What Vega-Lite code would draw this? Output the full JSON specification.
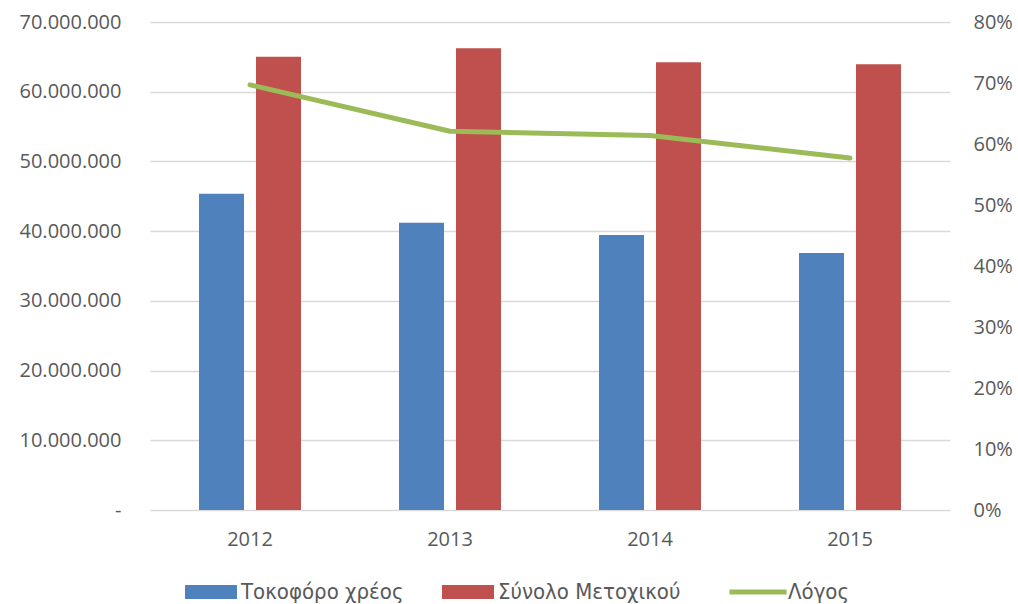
{
  "$schema": "https://vega.github.io/schema/vega-lite/v6.json",
  "width": 800,
  "height": 488,
  "autosize": {"type": "none"},
  "padding": {"left": 150, "top": 22, "right": 68, "bottom": 94},
  "background": "#ffffff",
  "config": {
    "locale": {"number": {"decimal": ",", "thousands": ".", "grouping": [3], "currency": ["", " €"]}},
    "view": {"stroke": null},
    "axis": {"labelFont": "Open Sans", "labelFontSize": 20, "labelColor": "#595959", "domain": false, "ticks": false, "title": null}
  },
  "datasets": {
    "bars": [
      {"year": "2012", "series": "Τοκοφόρο χρέος", "value": 45370000},
      {"year": "2012", "series": "Σύνολο Μετοχικού", "value": 65020000},
      {"year": "2013", "series": "Τοκοφόρο χρέος", "value": 41210000},
      {"year": "2013", "series": "Σύνολο Μετοχικού", "value": 66220000},
      {"year": "2014", "series": "Τοκοφόρο χρέος", "value": 39450000},
      {"year": "2014", "series": "Σύνολο Μετοχικού", "value": 64220000},
      {"year": "2015", "series": "Τοκοφόρο χρέος", "value": 36870000},
      {"year": "2015", "series": "Σύνολο Μετοχικού", "value": 63930000}
    ],
    "ratio": [
      {"year": "2012", "series": "Λόγος", "ratio": 0.697},
      {"year": "2013", "series": "Λόγος", "ratio": 0.621},
      {"year": "2014", "series": "Λόγος", "ratio": 0.614},
      {"year": "2015", "series": "Λόγος", "ratio": 0.577}
    ]
  },
  "encoding": {
    "x": {
      "field": "year", "type": "nominal",
      "scale": {"paddingInner": 0.49, "paddingOuter": 0.245},
      "axis": {"labelAngle": 0, "labelPadding": 19, "grid": false}
    }
  },
  "layer": [
    {
      "data": {"name": "bars"},
      "mark": {"type": "bar"},
      "encoding": {
        "xOffset": {"field": "series", "type": "nominal", "sort": ["Τοκοφόρο χρέος", "Σύνολο Μετοχικού"], "scale": {"paddingInner": 0.21, "paddingOuter": 0}},
        "y": {
          "field": "value", "type": "quantitative",
          "scale": {"domain": [0, 70000000], "nice": false},
          "axis": {
            "orient": "left",
            "values": [0, 10000000, 20000000, 30000000, 40000000, 50000000, 60000000, 70000000],
            "labelExpr": "datum.value === 0 ? '-' : format(datum.value, ',.0f')",
            "labelPadding": 29,
            "grid": true, "gridColor": "#d9d9d9", "gridWidth": 1.5
          }
        },
        "color": {
          "field": "series", "type": "nominal",
          "scale": {"domain": ["Τοκοφόρο χρέος", "Σύνολο Μετοχικού", "Λόγος"], "range": ["#4F81BD", "#C0504D", "#9BBB59"]},
          "legend": {
            "orient": "none", "legendX": 35, "legendY": 559, "direction": "horizontal", "title": null,
            "padding": 0,
            "symbolSize": 10816, "symbolType": "M-0.5,-0.135H0.5V0.135H-0.5Z",
            "columnPadding": 38, "labelOffset": 3,
            "labelFont": "DejaVu Sans Condensed, Open Sans", "labelFontSize": 22, "labelColor": "#595959", "labelLimit": 400,
            "encode": {
              "symbols": {"update": {
                "x": {"value": 26},
                "shape": {"signal": "datum.value === 'Λόγος' ? 'M-0.55,0H0.55' : 'M-0.5,-0.135H0.5V0.135H-0.5Z'"},
                "fill": {"signal": "datum.value === 'Τοκοφόρο χρέος' ? '#4F81BD' : datum.value === 'Σύνολο Μετοχικού' ? '#C0504D' : 'transparent'"},
                "stroke": {"signal": "datum.value === 'Λόγος' ? '#9BBB59' : 'transparent'"},
                "strokeWidth": {"signal": "datum.value === 'Λόγος' ? 5 : 0"},
                "opacity": {"value": 1}
              }},
              "labels": {"update": {"x": {"value": 56}}}
            }
          }
        }
      }
    },
    {
      "data": {"name": "ratio"},
      "mark": {"type": "line", "strokeWidth": 5, "strokeCap": "round", "strokeJoin": "round"},
      "encoding": {
        "y": {
          "field": "ratio", "type": "quantitative",
          "scale": {"domain": [0, 0.8], "nice": false},
          "axis": {
            "orient": "right",
            "values": [0, 0.1, 0.2, 0.3, 0.4, 0.5, 0.6, 0.7, 0.8],
            "format": ".0%",
            "labelPadding": 23,
            "grid": false
          }
        },
        "color": {"field": "series", "type": "nominal"}
      }
    }
  ],
  "resolve": {"scale": {"y": "independent"}}
}
